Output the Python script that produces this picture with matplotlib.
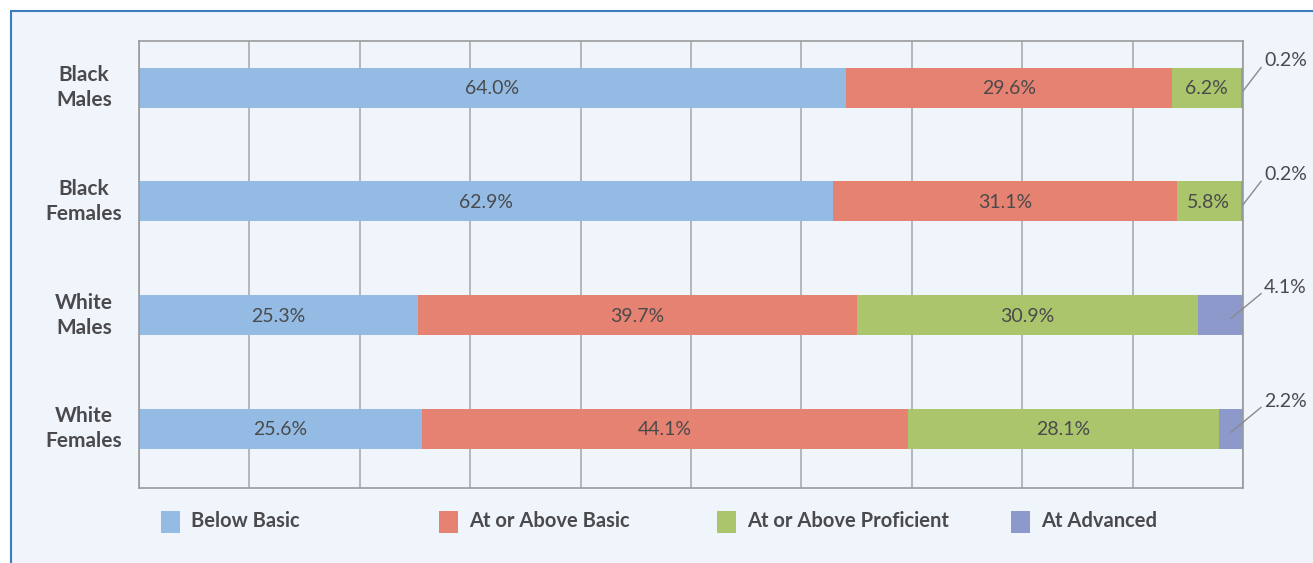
import matplotlib.pyplot as plt
from matplotlib.patches import Rectangle

plt.rcParams['font.family'] = ['Lato', 'DejaVu Sans']

groups = ['Black\nMales', 'Black\nFemales', 'White\nMales', 'White\nFemales']
levels = ['Below Basic', 'At or Above Basic', 'At or Above Proficient', 'At Advanced']
below_basic = [64.0, 62.9, 25.3, 25.6]
above_basic = [29.6, 31.1, 39.7, 44.1]
proficient = [6.2, 5.8, 30.9, 28.1]
advanced = [0.2, 0.2, 4.1, 2.2]

colors = ['#93BBE3', '#E58271', '#ABC56C', '#8E99CB']
bg = '#F0F4FB'
ink = '#4A4A4C'

W, H = 1313, 563
fig = plt.figure(figsize=(W / 100, H / 100), dpi=100, facecolor='white')

# panel background with blue frame (runs off the right/bottom edge)
fig.patches.append(Rectangle((11 / W, -0.1), 1.2, (H - 11) / H + 0.1,
                             transform=fig.transFigure, facecolor=bg,
                             edgecolor='#3C7DBF', linewidth=1.5, zorder=-10))

ax = fig.add_axes([139 / W, 1 - 488 / H, (1243 - 139) / W, (488 - 41) / H])
ax.set_facecolor(bg)
ax.set_xlim(0, 100)
ax.set_ylim(3.52, -0.41)
ax.set_xticks(range(0, 101, 10))
ax.grid(axis='x', color='#ABABAB', linewidth=1.2)
ax.set_axisbelow(True)
ax.tick_params(length=0, labelbottom=False, labelleft=False)
for s in ax.spines.values():
    s.set_color('#9A9A9A')
    s.set_linewidth(1.2)

series = [below_basic, above_basic, proficient, advanced]
y = list(range(len(groups)))
left = [0.0] * len(groups)
for vals, c in zip(series, colors):
    ax.barh(y, vals, left=left, height=0.352, color=c, zorder=2)
    left = [l + v for l, v in zip(left, vals)]

# value labels inside the first three segments
left = [0.0] * len(groups)
for vals in series[:3]:
    for i, v in enumerate(vals):
        ax.text(left[i] + v / 2, i + 0.01, f'{v:.1f}%', ha='center', va='center',
                fontsize=14, color=ink, zorder=3)
    left = [l + v for l, v in zip(left, vals)]

# advanced share labelled outside with a leader line
for i, v in enumerate(advanced):
    start = 100 - min(v, 2.2) / 2 if v > 1 else 100
    ax.annotate(f'{v:.1f}%', xy=(start, i + 0.03), xytext=(101.9, i - 0.24),
                ha='left', va='center', fontsize=14, color=ink,
                annotation_clip=False,
                arrowprops=dict(arrowstyle='-', color='#8A8A8A', lw=1,
                                shrinkA=0, shrinkB=0,
                                relpos=(0, 0.3)))

# group names to the left of the bars
for i, g in enumerate(groups):
    ax.text(-5.0, i, g, ha='center', va='center', clip_on=False,
            fontsize=15, fontweight='bold', color=ink, linespacing=1.3)

# legend row
legend_x = [161, 439, 717, 1011]
for x0, lab, c in zip(legend_x, levels, colors):
    fig.patches.append(Rectangle((x0 / W, 1 - 533 / H), 19 / W, 22 / H,
                                 transform=fig.transFigure, facecolor=c,
                                 edgecolor='none', zorder=2))
    fig.text((x0 + 30) / W, 1 - 521 / H, lab, ha='left', va='center',
             fontsize=14.5, fontweight='bold', color=ink)

fig.savefig('out.png', dpi=100, facecolor='white')
